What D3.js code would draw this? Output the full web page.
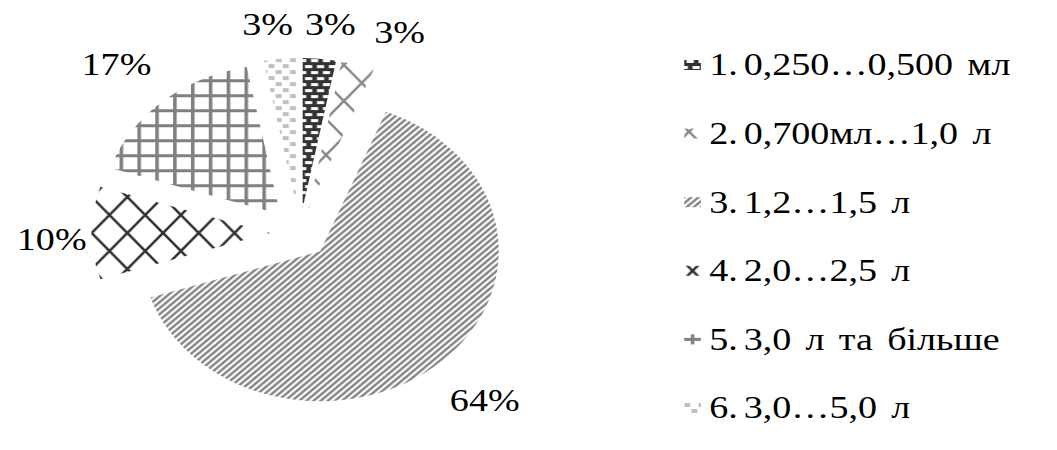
<!DOCTYPE html>
<html>
<head>
<meta charset="utf-8">
<script src="https://cdn.jsdelivr.net/npm/d3@7"></script>
<style>
  html, body { margin: 0; padding: 0; background: #fff; }
  svg { display: block; }
  text { font-family: "Liberation Serif", "Times New Roman", serif; fill: #000; }
</style>
</head>
<body>
<svg id="chart" width="1057" height="450"></svg>
<script>
// ---- data ----
const categories = ["0,250…0,500 мл", "0,700мл…1,0 л", "1,2…1,5 л", "2,0…2,5 л", "3,0 л та більше", "3,0…5,0 л"];
const itemNumbers = ["1.", "2.", "3.", "4.", "5.", "6."];
const shares = [3, 3, 64, 10, 17, 3];

// ---- layout ----
const W = 1057, H = 450;
const stretch = 1.19;            // the whole drawing is widened horizontally
const cx = 252, cy = 233;        // pie centre (unstretched units)
const R = 150;                   // pie radius
const EXPLODE = 25;              // distance each slice is pulled out
const labelFont = 32, legendFont = 32;
const keyX = 575, keyW = 14, keyH = 10;
// small per-label nudges (degrees, px) so the crowded labels do not collide
const labelNudge = [[1.6, 0], [6.5, 2], [0.4, 4], [-1.9, -18], [-1.0, 4], [-2.0, 0]];

const svg = d3.select("#chart");
const defs = svg.append("defs");

// ---- pattern fills (one set for the slices, one set anchored on the legend keys) ----
const fills = [
  { w: 10, h: 12, key: [0, 0], build: p => {
      p.select("rect").attr("fill", "#333");
      p.append("rect").attr("x", 2).attr("y", 1).attr("width", 6).attr("height", 3).attr("fill", "#fff");
      p.append("rect").attr("x", -3).attr("y", 7).attr("width", 6).attr("height", 3).attr("fill", "#fff");
      p.append("rect").attr("x", 7).attr("y", 7).attr("width", 6).attr("height", 3).attr("fill", "#fff");
    } },
  { w: 30, h: 36, key: [keyX + 4, -2], build: lattice("#8c8c8c") },
  { w: 6, h: 6, key: [0, 0], build: p => {
      p.append("path").attr("d", "M-1,1L1,-1M0,6L6,0M5,7L7,5")
        .attr("stroke", "#808080").attr("stroke-width", 2.2).attr("fill", "none");
    } },
  { w: 30, h: 36, key: [keyX + keyW / 2, 0], build: lattice("#333") },
  { w: 15, h: 15, key: [keyX + keyW / 2 - 1.5, -1.5], build: p => {
      p.append("rect").attr("width", 3).attr("height", 15).attr("fill", "#808080");
      p.append("rect").attr("width", 15).attr("height", 3).attr("fill", "#808080");
    } },
  { w: 12, h: 12, key: [keyX, -5], build: p => {
      p.append("rect").attr("x", 0).attr("y", 0).attr("width", 5).attr("height", 4).attr("fill", "#c0c0c0");
      p.append("rect").attr("x", 6).attr("y", 6).attr("width", 5).attr("height", 4).attr("fill", "#c0c0c0");
    } }
];
function lattice(colour) {
  return p => p.append("path")
    .attr("d", "M0,0L30,36M30,0L0,36M-3,-3.6L3,3.6M27,32.4L33,39.6M27,3.6L33,-3.6M-3,39.6L3,32.4")
    .attr("stroke", colour).attr("stroke-width", 2.4).attr("fill", "none");
}
function pattern(id, f, ox, oy) {
  const p = defs.append("pattern").attr("id", id)
    .attr("patternUnits", "userSpaceOnUse")
    .attr("x", ox).attr("y", oy)
    .attr("width", f.w).attr("height", f.h);
  p.append("rect").attr("width", f.w).attr("height", f.h).attr("fill", "#fff");
  f.build(p);
}
fills.forEach((f, i) => {
  pattern(`pat${i}`, f, 0, 0);
  pattern(`key${i}`, f, f.key[0], f.key[1]);
});

const root = svg.append("g").attr("transform", `scale(${stretch},1)`);

// ---- pie ----
const pie = d3.pie().value(d => d).sort(null);
const arcs = pie(shares);
const arc = d3.arc().innerRadius(0).outerRadius(R);
const mid = d => (d.startAngle + d.endAngle) / 2;

const pieG = root.append("g").attr("transform", `translate(${cx},${cy})`);
pieG.selectAll("g.slice").data(arcs).join("g")
  .attr("class", "slice")
  .attr("transform", d => `translate(${EXPLODE * Math.sin(mid(d))},${-EXPLODE * Math.cos(mid(d))})`)
  .append("path")
  .attr("d", arc)
  .attr("fill", (d, i) => `url(#pat${i})`);

// ---- percentage labels, placed just outside each slice ----
pieG.selectAll("text.pct").data(arcs).join("text")
  .attr("class", "pct")
  .attr("font-size", labelFont)
  .attr("text-anchor", "middle")
  .attr("dominant-baseline", "central")
  .text(d => d.data + "%")
  .each(function (d, i) {
    const w = this.getComputedTextLength();
    const h = labelFont * 0.66;
    const a = mid(d) + labelNudge[i][0] * Math.PI / 180;
    const ux = Math.sin(a), uy = -Math.cos(a);
    const extent = Math.abs(ux) * w / 2 + Math.abs(uy) * h / 2;
    const rr = R + EXPLODE + 22 + extent + labelNudge[i][1];
    d3.select(this).attr("x", rr * ux).attr("y", rr * uy);
  });

// ---- legend ----
const legendY = d3.scalePoint().domain(d3.range(categories.length)).range([65, 408]);
const legend = root.append("g");
const rows = legend.selectAll("g.row").data(categories).join("g")
  .attr("class", "row")
  .attr("transform", (d, i) => `translate(0,${legendY(i)})`);
rows.append("rect")
  .attr("x", keyX).attr("y", -keyH / 2).attr("width", keyW).attr("height", keyH)
  .attr("fill", (d, i) => `url(#key${i})`);
rows.append("text")
  .attr("x", 596).attr("y", 0)
  .attr("font-size", legendFont)
  .attr("dominant-baseline", "central")
  .text((d, i) => itemNumbers[i]);
rows.append("text")
  .attr("x", 625).attr("y", 0)
  .attr("font-size", legendFont)
  .attr("dominant-baseline", "central")
  .attr("word-spacing", 4)
  .text(d => d);
</script>
</body>
</html>
